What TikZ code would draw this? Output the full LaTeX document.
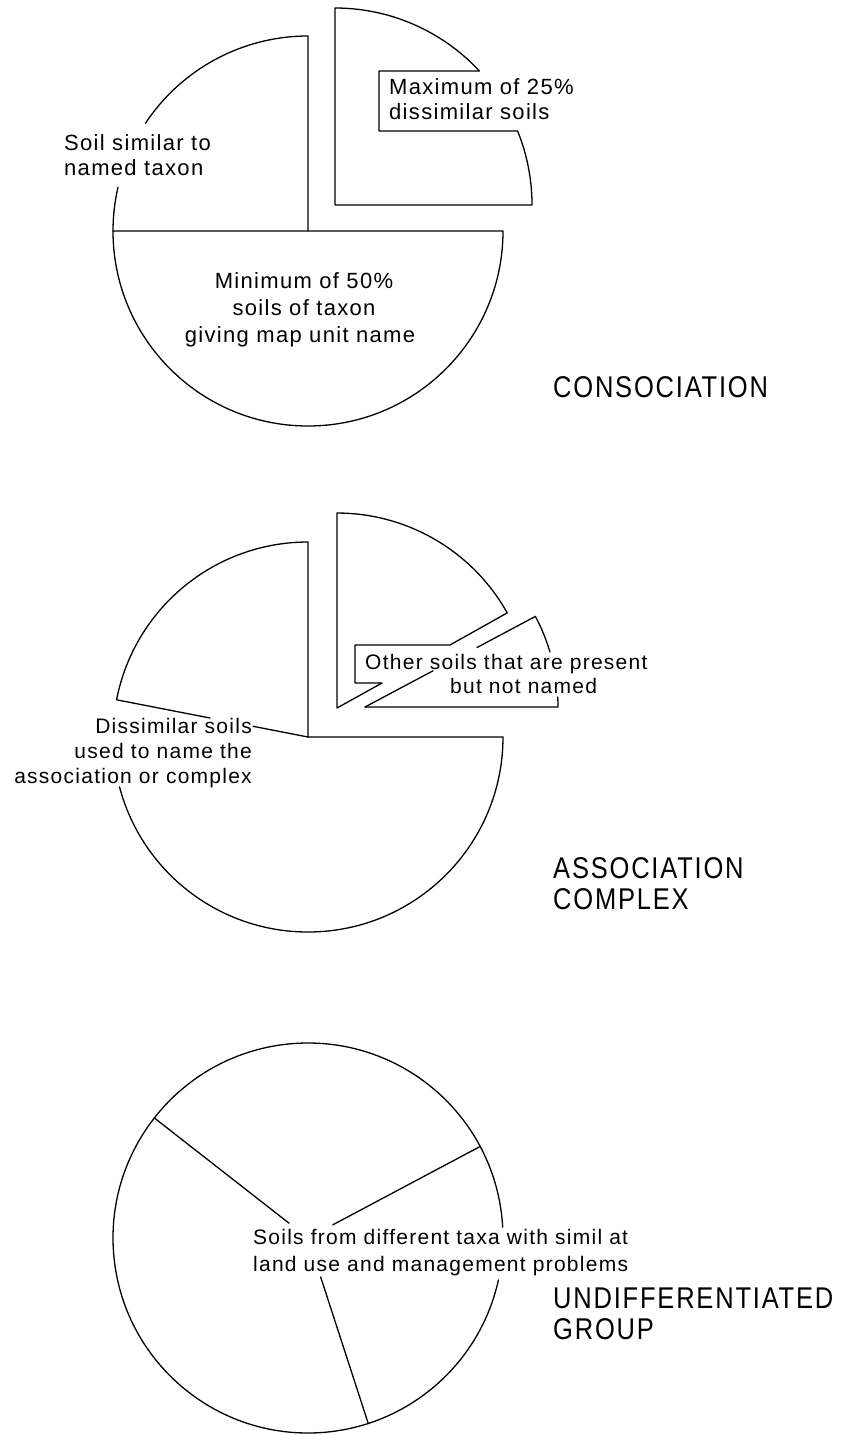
\documentclass[tikz,border=0pt]{standalone}
\usepackage{fontspec}
\setmainfont{Liberation Sans}
\newfontfamily\lblfont[LetterSpace=6]{Liberation Sans}
\newfontfamily\capfont[FakeStretch=0.85,LetterSpace=6]{Liberation Sans}
\begin{document}
\begin{tikzpicture}[x=1pt,y=1pt]
\tikzset{
  pie/.style={draw=black, line width=1.3pt, line join=round, line cap=round},
  txt/.style={font=\lblfont\fontsize{21}{25}\selectfont, inner sep=0pt, text=black},
  txtbig/.style={font=\lblfont\fontsize{22}{26}\selectfont, inner sep=0pt, text=black},
  caplbl/.style={font=\capfont\fontsize{30}{34}\selectfont, inner sep=0pt, text=black}
}
\useasboundingbox (0,0) rectangle (849,-1435);
\fill[white] (0,0) rectangle (849,-1435);

% centres
\coordinate (c1) at (308,-231);
\coordinate (c1s) at (335,-205);
\coordinate (c2) at (308,-737);
\coordinate (c2a) at (337,-708);
\coordinate (c2b) at (365,-707);
\coordinate (c3) at (308,-1238);

% ---------- CONSOCIATION ----------
\draw[pie] (c1) -- ++(90:195) arc[start angle=90,end angle=146.4,radius=195];
\draw[pie] (c1) ++(167:195) arc[start angle=167,end angle=180,radius=195];
\draw[pie] (c1) ++(180:195) -- ++(390,0) arc[start angle=0,end angle=-180,radius=195] -- cycle;
\draw[pie] (c1s) -- ++(90:197) arc[start angle=90,end angle=42.86,radius=197]
   -- (379,-71) -- (379,-131) -- (517.6,-131) arc[start angle=22.06,end angle=0,radius=197] -- cycle;

\node[txtbig, anchor=base west] (max1) at (389,-94) {Maximum of 25\%};
\node[txtbig, anchor=base west] (max2) at (389,-119) {dissimilar soils};
\node[txtbig, anchor=base west] (sim1) at (64,-150) {Soil similar to};
\node[txtbig, anchor=base west] (sim2) at (64,-175) {named taxon};
\node[txtbig, anchor=base] (min1) at (304,-288) {Minimum of 50\%};
\node[txtbig, anchor=base] (min2) at (304,-315) {soils of taxon};
\node[txtbig, anchor=base] (min3) at (300,-342) {giving map unit name};
\node[caplbl, anchor=base west] (consoc) at (553,-397) {CONSOCIATION};

% ---------- ASSOCIATION / COMPLEX ----------
\draw[pie] (c2) -- ++(90:195) arc[start angle=90,end angle=169,radius=195] -- (210,-718);
\draw[pie] (253,-726.3) -- (c2);
\draw[pie] (c2) -- ++(0:195) arc[start angle=0,end angle=-165.2,radius=195];
\draw[pie] (450,-645) -- (507.2,-612.9) arc[start angle=29.2,end angle=90,radius=195]
   -- (c2a) -- (382,-683) -- (355,-683) -- (355,-645) -- cycle;
\draw[pie] (c2b) -- (433,-670.8);
\draw[pie] (477,-647.5) -- (535.4,-616.4) arc[start angle=28,end angle=16.6,radius=193];
\draw[pie] (c2b) ++(3:193) arc[start angle=3,end angle=0,radius=193] -- (c2b);

\node[txt, anchor=base east] (dis1) at (252,-733) {Dissimilar soils};
\node[txt, anchor=base east] (dis2) at (252,-758) {used to name the};
\node[txt, anchor=base east] (dis3) at (252,-783) {association or complex};
\node[txt, anchor=base west] (oth1) at (365,-669) {Other soils that are present};
\node[txt, anchor=base west] (oth2) at (450,-693) {but not named};
\node[caplbl, anchor=base west] (assoc) at (553,-878) {ASSOCIATION};
\node[caplbl, anchor=base west] (compl) at (553,-909) {COMPLEX};

% ---------- UNDIFFERENTIATED GROUP ----------
\draw[pie] (c3) ++(3.2:195) arc[start angle=3.2,end angle=347.6,radius=195];
\draw[pie] (c3) ++(142:24) -- ++(142:171);
\draw[pie] (c3) ++(28:28) -- ++(28:167);
\draw[pie] (c3) ++(288:41) -- ++(288:154);

\node[txt, anchor=base west] (und1) at (253,-1244) {Soils from different taxa with simil at};
\node[txt, anchor=base west] (und2) at (253,-1271) {land use and management problems};
\node[caplbl, anchor=base west] (undif) at (553,-1308) {UNDIFFERENTIATED};
\node[caplbl, anchor=base west] (group) at (553,-1339) {GROUP};
\end{tikzpicture}
\end{document}
